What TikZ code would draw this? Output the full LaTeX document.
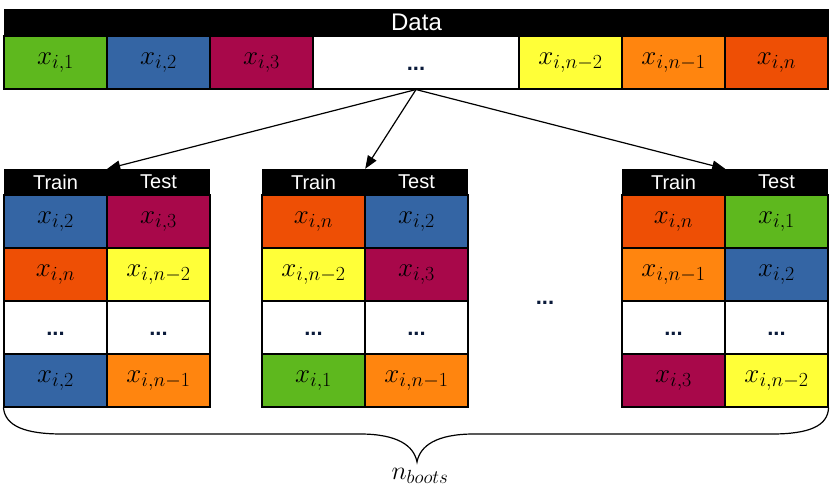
\documentclass[tikz,border=0pt]{standalone}
\usepackage{fix-cm}
\usepackage{fontspec}
\setmainfont{Liberation Sans}
\usetikzlibrary{arrows.meta}
\DeclareMathSizes{27}{27}{20}{15}
\DeclareMathSizes{26}{26}{19}{14}

\definecolor{cgreen}{HTML}{5EB81E}
\definecolor{cblue}{HTML}{3465A4}
\definecolor{cmagenta}{HTML}{A8084A}
\definecolor{cyellow}{HTML}{FFFF38}
\definecolor{corange}{HTML}{FF850F}
\definecolor{cred}{HTML}{EE4F05}
\definecolor{dotblue}{HTML}{0A1A3A}

\newcommand{\etc}{\textcolor{dotblue}{\textbf{...}}}

\tikzset{
	cell/.style={draw, line width=1.1pt, minimum width=103pt, minimum height=53pt,
		inner sep=0pt, font=\fontsize{27}{30}\selectfont},
	dotcell/.style={cell, font=\fontsize{22}{26}\selectfont, text height=16pt, text depth=0pt},
	head/.style={fill=black, text=white, minimum width=103pt, minimum height=26pt,
		inner sep=0pt, font=\fontsize{20}{24}\selectfont},
	split/.style={line width=1.2pt, -{Triangle[length=13pt, width=10pt]}},
}

\begin{document}
\begin{tikzpicture}[x=1pt, y=-1pt]
		\useasboundingbox (0, 0) rectangle (838, 497);

		% the whole data set
		\node[head, minimum width=825pt, font=\fontsize{24}{28}\selectfont] (data) at (416.5, 22) {Data};
		\foreach \c/\t [count=\i from 0] in {cgreen/1, cblue/2, cmagenta/3}
			\node[cell, fill=\c] (d\t) at (55.5 + 103 * \i, 62.5) {$x_{i,\t}$};
		\node[dotcell, minimum width=206pt] (dots) at (416, 62.5) {\etc};
		\foreach \c/\t [count=\i from 0] in {cyellow/n-2, corange/n-1, cred/n}
			\node[cell, fill=\c] (dr\i) at (570.5 + 103 * \i, 62.5) {$x_{i,\t}$};

		% bootstrap samples
		\foreach \x/\s in {4/A, 262/B, 622/C} {
				\node[head] (\s-train) at (\x + 51.5, 182) {Train};
				\node[head] (\s-test) at (\x + 154.5, 182) {Test};
				\node[dotcell] (\s-tr3) at (\x + 51.5, 327.5) {\etc};
				\node[dotcell] (\s-te3) at (\x + 154.5, 327.5) {\etc};
			}

		\foreach \r/\ca/\la/\cb/\lb in {
				1/cblue/{$x_{i,2}$}/cmagenta/{$x_{i,3}$},
				2/cred/{$x_{i,n}$}/cyellow/{$x_{i,n-2}$},
				4/cblue/{$x_{i,2}$}/corange/{$x_{i,n-1}$}} {
				\node[cell, fill=\ca] (A-tr\r) at (55.5, 168.5 + 53 * \r) {\la};
				\node[cell, fill=\cb] (A-te\r) at (158.5, 168.5 + 53 * \r) {\lb};
			}
		\foreach \r/\ca/\la/\cb/\lb in {
				1/cred/{$x_{i,n}$}/cblue/{$x_{i,2}$},
				2/cyellow/{$x_{i,n-2}$}/cmagenta/{$x_{i,3}$},
				4/cgreen/{$x_{i,1}$}/corange/{$x_{i,n-1}$}} {
				\node[cell, fill=\ca] (B-tr\r) at (313.5, 168.5 + 53 * \r) {\la};
				\node[cell, fill=\cb] (B-te\r) at (416.5, 168.5 + 53 * \r) {\lb};
			}
		\foreach \r/\ca/\la/\cb/\lb in {
				1/cred/{$x_{i,n}$}/cgreen/{$x_{i,1}$},
				2/corange/{$x_{i,n-1}$}/cblue/{$x_{i,2}$},
				4/cmagenta/{$x_{i,3}$}/cyellow/{$x_{i,n-2}$}} {
				\node[cell, fill=\ca] (C-tr\r) at (673.5, 168.5 + 53 * \r) {\la};
				\node[cell, fill=\cb] (C-te\r) at (776.5, 168.5 + 53 * \r) {\lb};
			}

		\node[font=\fontsize{22}{26}\selectfont, text height=16pt, text depth=0pt] (more) at (545, 296) {\etc};

		\draw[split] (dots.south) -- (A-train.north east);
		\draw[split] (dots.south) -- (B-train.north east);
		\draw[split] (dots.south) -- (C-train.north east);

		% brace over all samples
		\draw[line width=1.2pt] (A-tr4.south west)
		.. controls (5, 426) and (25, 434) .. (62, 434) -- (360, 434)
		.. controls (398, 434) and (414, 446) .. (417, 462)
		.. controls (420, 446) and (436, 434) .. (474, 434) -- (772, 434)
		.. controls (809, 434) and (828, 426) .. (C-te4.south east);
		\node[font=\fontsize{26}{30}\selectfont] (nboots) at (420, 476) {$n_{boots}$};
	\end{tikzpicture}
\end{document}
